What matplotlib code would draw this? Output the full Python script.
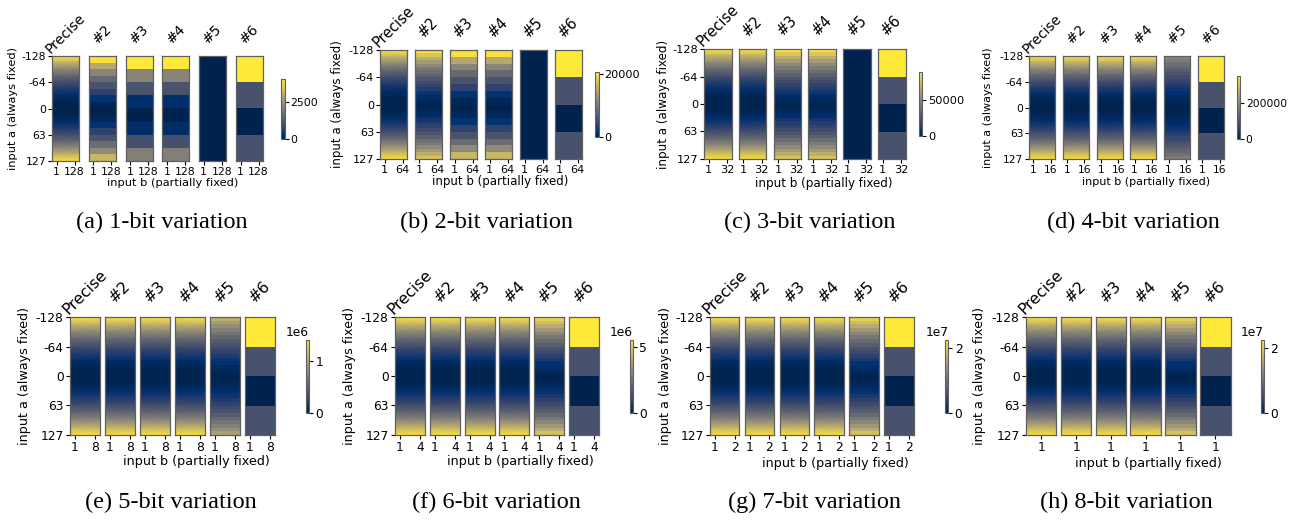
import numpy as np
import matplotlib
matplotlib.use('Agg')
import matplotlib.pyplot as plt

# --- data (levels are fractions of each subfigure's colour-bar maximum) ---
methods = ['Precise', '#2', '#3', '#4', '#5', '#6']
captions = ['(a) 1-bit variation', '(b) 2-bit variation', '(c) 3-bit variation', '(d) 4-bit variation',
            '(e) 5-bit variation', '(f) 6-bit variation', '(g) 7-bit variation', '(h) 8-bit variation']
b_cols = [128, 64, 32, 16, 8, 4, 2, 1]
a_ticks = [-128, -64, 0, 63, 127]
vmax = [4050, 20600, 88900, 350000, 1.4e6, 5.5e6, 2.25e7, 2.25e7]
cbar_ticks = [[0, 2500], [0, 20000], [0, 50000], [0, 200000], [0, 1e6], [0, 5e6], [0, 2e7], [0, 2e7]]

# smooth profile, sampled every 16 rows of input a (vertex values)
smooth17 = [1.0, 0.77, 0.57, 0.39, 0.25, 0.14, 0.06, 0.015, 0.0, 0.015, 0.06, 0.14, 0.25, 0.39, 0.57, 0.77, 0.98]
# banded profiles (one value per band, top to bottom)
b32 = [0.98, 0.86, 0.76, 0.66, 0.57, 0.49, 0.42, 0.35, 0.29, 0.24, 0.19, 0.15, 0.11, 0.07, 0.04, 0.02,
       0.01, 0.02, 0.04, 0.07, 0.11, 0.15, 0.19, 0.24, 0.29, 0.35, 0.42, 0.49, 0.57, 0.66, 0.75, 0.85]
b16 = [0.97, 0.72, 0.55, 0.40, 0.28, 0.18, 0.09, 0.02, 0.0, 0.03, 0.09, 0.18, 0.28, 0.42, 0.58, 0.80]
b8 = [1.0, 0.55, 0.28, 0.07, 0.0, 0.06, 0.26, 0.52]
b4 = [1.0, 0.27, 0.0, 0.27]
zero = [0.0]
fade32 = [1.0, 0.90, 0.80, 0.70, 0.61, 0.52, 0.44, 0.37, 0.30, 0.24, 0.19, 0.14, 0.10, 0.07, 0.04, 0.02,
          0.01, 0.02, 0.04, 0.07, 0.10, 0.14, 0.19, 0.24, 0.30, 0.37, 0.44, 0.52, 0.61, 0.70, 0.80, 0.92]
fade_peak = [0, 0, 0, 0.55, 0.75, 0.92, 0.92, 0.92]

panel_kinds = [
    ['smooth', 'b16', 'b8', 'b8', 'zero', 'b4'],
    ['smooth', 'b32', 'b16', 'b16', 'zero', 'b4'],
    ['smooth', 'smooth', 'b32', 'b32', 'zero', 'b4'],
    ['smooth', 'smooth', 'smooth', 'smooth', 'fade', 'b4'],
    ['smooth', 'smooth', 'smooth', 'smooth', 'fade', 'b4'],
    ['smooth', 'smooth', 'smooth', 'smooth', 'fade', 'b4'],
    ['smooth', 'smooth', 'smooth', 'smooth', 'fade', 'b4'],
    ['smooth', 'smooth', 'smooth', 'smooth', 'fade', 'b4'],
]
profiles = {'smooth': smooth17, 'b32': b32, 'b16': b16, 'b8': b8, 'b4': b4, 'zero': zero, 'fade': fade32}

# --- layout in pixels (x of first panel, pitch, width, top, bottom, colourbar box, label spots) ---
W, H = 1300, 521
p_left = [52, 380, 704, 1029, 70, 395, 710, 1026]
p_pitch = [36.8, 35.0, 34.8, 33.8, 35.0, 34.8, 34.8, 34.8]
p_width = [27, 27, 27.5, 26, 30, 30, 29.5, 30.5]
p_top = [56, 50, 49, 56, 317, 317, 317, 317]
p_bot = [161, 159, 159, 159, 435, 435, 435, 435]
cb_x = [281, 595, 919, 1236.5, 305.5, 629.5, 945, 1260.5]
cb_y = [(79, 139), (72, 137), (72, 136), (76, 139), (340, 413), (340, 413), (340, 413), (340, 413)]
ylab_x = [13, 338, 663, 988, 25, 350, 665, 980]
xlab_pos = [(173, 183), (500, 181), (824, 183), (1146, 182), (196, 462), (520, 462), (835, 463), (1148, 463)]
cap_pos = [(162, 222), (486, 222), (810, 222), (1133, 222), (171, 502), (496, 502), (814, 502), (1126, 502)]

fig = plt.figure(figsize=(W / 100, H / 100), dpi=100)


def px_axes(x0, x1, y0, y1):
    return fig.add_axes([x0 / W, 1 - y1 / H, (x1 - x0) / W, (y1 - y0) / H])


edge = '#606060'
for k in range(8):
    scale = (p_bot[k] - p_top[k]) / 118.0
    fs = 8.8 * scale
    ncols = b_cols[k]
    mesh = None
    for j, name in enumerate(methods):
        x0 = p_left[k] + j * p_pitch[k]
        ax = px_axes(x0, x0 + p_width[k], p_top[k], p_bot[k])
        kind = panel_kinds[k][j]
        levels = np.array(profiles[kind], dtype=float)
        if kind == 'fade':
            levels = levels * fade_peak[k]
        vals = levels * vmax[k]
        if kind == 'smooth':
            yv = np.linspace(-128, 128, len(vals))
            X, Y = np.meshgrid([0, ncols], yv)
            C = np.repeat(vals[:, None], 2, axis=1)
            mesh = ax.pcolormesh(X, Y, C, shading='gouraud', cmap='cividis', vmin=0, vmax=vmax[k])
        else:
            ye = np.linspace(-128, 128, len(vals) + 1)
            mesh = ax.pcolormesh([0, ncols], ye, vals[:, None], cmap='cividis', vmin=0, vmax=vmax[k])
        ax.set_xlim(0, ncols)
        ax.set_ylim(128, -128)
        if ncols > 1:
            ax.set_xticks([ncols / 6, ncols * 5 / 6])
            ax.set_xticklabels(['1', str(ncols)])
        else:
            ax.set_xticks([0.5])
            ax.set_xticklabels(['1'])
        if j == 0:
            ax.set_yticks([t + 0.5 for t in a_ticks])
            ax.set_yticklabels([str(t) for t in a_ticks])
        else:
            ax.set_yticks([])
        ax.tick_params(labelsize=fs, length=3 * scale, width=0.8, pad=1.5)
        for s in ax.spines.values():
            s.set_edgecolor(edge)
            s.set_linewidth(0.9)
        ax.text(0.5, 1 + 25 * scale / (p_bot[k] - p_top[k]), name, transform=ax.transAxes,
                rotation=45, ha='center', va='center', fontsize=11.3 * scale)

    cax = px_axes(cb_x[k], cb_x[k] + 3.5, cb_y[k][0], cb_y[k][1])
    cb = fig.colorbar(mesh, cax=cax)
    cb.set_ticks(cbar_ticks[k])
    cb.ax.tick_params(labelsize=fs, length=3 * scale, width=0.8, pad=1.5)
    cb.ax.yaxis.get_offset_text().set_fontsize(fs)
    cb.outline.set_edgecolor(edge)
    cb.outline.set_linewidth(0.8)

    yc = (p_top[k] + p_bot[k]) / 2
    fig.text(ylab_x[k] / W, 1 - yc / H, 'input a (always fixed)', rotation=90,
             ha='center', va='center', fontsize=9.2 * scale)
    fig.text(xlab_pos[k][0] / W, 1 - xlab_pos[k][1] / H, 'input b (partially fixed)',
             ha='center', va='center', fontsize=9.2 * scale)
    fig.text(cap_pos[k][0] / W, 1 - cap_pos[k][1] / H, captions[k], ha='center', va='center',
             fontsize=17.5, family='Liberation Serif')

plt.savefig('out.png', dpi=100)
